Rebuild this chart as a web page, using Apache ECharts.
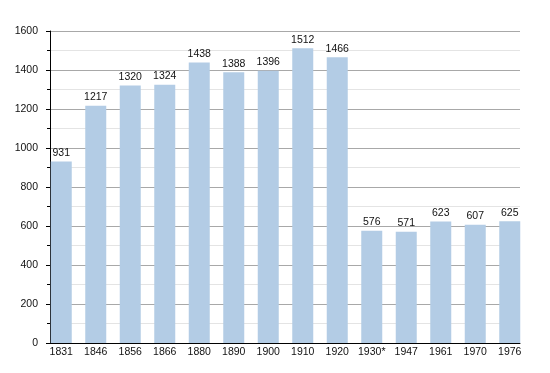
<!DOCTYPE html>
<html>
<head>
<meta charset="utf-8">
<script src="https://cdn.jsdelivr.net/npm/echarts@6/dist/echarts.min.js"></script>
<style>html,body{margin:0;padding:0;background:#fff;}#c{width:550px;height:373px;}</style>
</head>
<body>
<div id="c"></div>
<script>
const categories = ['1831','1846','1856','1866','1880','1890','1900','1910','1920','1930*','1947','1961','1970','1976'];
const population = [931,1217,1320,1324,1438,1388,1396,1512,1466,576,571,623,607,625];
const yMin = 0, yMax = 1600, yStep = 200;

const font = 'Liberation Sans, Arial, sans-serif';
const fs = 10.5;
const chart = echarts.init(document.getElementById('c'), null, {renderer:'canvas'});
chart.setOption({
  animation: false,
  backgroundColor: '#fff',
  grid: [
    {left: 50, right: 30, top: 31, bottom: 30},
    {left: 44, right: 23, top: 31, bottom: 30}
  ],
  xAxis: [
    {gridIndex: 0, type: 'value', min: 0, max: 1,
     axisLine: {show: true, onZero: false, lineStyle: {color: '#000', width: 1}},
     axisTick: {show: false}, axisLabel: {show: false}, splitLine: {show: false}},
    {gridIndex: 1, type: 'category', data: categories,
     axisLine: {show: false}, axisTick: {show: false},
     axisLabel: {color: '#111', fontSize: fs, fontFamily: font, margin: 4, interval: 0}}
  ],
  yAxis: [
    {gridIndex: 0, type: 'value', min: yMin, max: yMax, interval: yStep,
     axisLine: {show: true, lineStyle: {color: '#000', width: 1}},
     axisTick: {show: true, length: 4, lineStyle: {color: '#000'}},
     minorTick: {show: true, splitNumber: 2, length: 3, lineStyle: {color: '#000'}},
     axisLabel: {color: '#111', fontSize: fs, fontFamily: font, margin: 12, formatter: v => String(v)},
     splitLine: {show: true, lineStyle: {color: '#a8a8a8', width: 1}},
     minorSplitLine: {show: true, lineStyle: {color: '#e4e4e4', width: 1}}},
    {gridIndex: 1, type: 'value', min: yMin, max: yMax, interval: yStep, show: false,
     splitLine: {show: false}}
  ],
  series: [{
    type: 'bar',
    xAxisIndex: 1, yAxisIndex: 1,
    data: population,
    barWidth: 21,
    itemStyle: {color: '#b3cce5'},
    label: {show: true, position: 'top', distance: 3, color: '#111', fontSize: fs, fontFamily: font},
    z: 3
  }]
});
</script>
</body>
</html>
